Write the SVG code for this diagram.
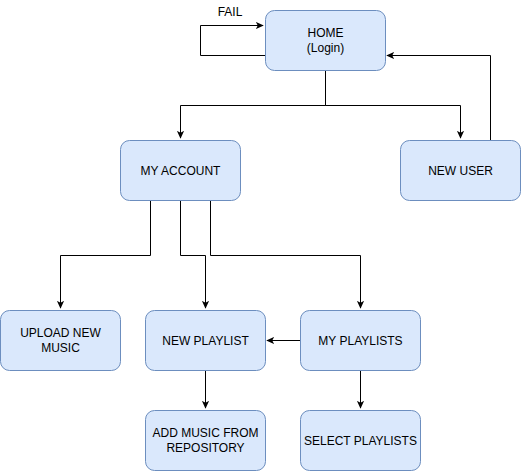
<svg xmlns="http://www.w3.org/2000/svg" width="521" height="471" viewBox="0 0 521 471">
<defs>
<marker id="arr" viewBox="0 0 10 10" refX="9" refY="5" markerWidth="8" markerHeight="8" markerUnits="userSpaceOnUse" orient="auto">
<path d="M0,0.5 L10,5 L0,9.5 L2.5,5 Z" fill="#000"/>
</marker>
<style>
.n rect{fill:#dae8fc;stroke:#6c8ebf;stroke-width:1}
.n text,.lbl{font-family:"Liberation Sans",Arial,Helvetica,sans-serif;font-size:12px;fill:#000;text-anchor:middle}
.e path{fill:none;stroke:#000;stroke-width:1;marker-end:url(#arr)}
</style>
</defs>
<rect width="521" height="471" fill="#fff"/>
<g class="e" id="connectors">
<path d="M265.5,55.5 H200.5 V25.5 H263"/>
<path d="M325.5,70.5 V105.5 H180.5 V138"/>
<path d="M325.5,70.5 V105.5 H460.5 V138"/>
<path d="M490.5,140.5 V55.5 H387"/>
<path d="M150.5,200.5 V255.5 H60.5 V308"/>
<path d="M180.5,200.5 V255.5 H205.5 V308"/>
<path d="M210.5,200.5 V255.5 H360.5 V308"/>
<path d="M300.5,340.5 H267"/>
<path d="M205.5,370.5 V408"/>
<path d="M360.5,370.5 V408"/>
</g>
<text class="lbl" x="230" y="16">FAIL</text>
<g class="n" id="home"><rect x="265.5" y="10.5" width="120" height="60" rx="9"/><text x="325.5" y="37">HOME</text><text x="325.5" y="52">(Login)</text></g>
<g class="n" id="myaccount"><rect x="120.5" y="140.5" width="120" height="60" rx="9"/><text x="180.5" y="175">MY ACCOUNT</text></g>
<g class="n" id="newuser"><rect x="400.5" y="140.5" width="120" height="60" rx="9"/><text x="460.5" y="175">NEW USER</text></g>
<g class="n" id="upload"><rect x="0.5" y="310.5" width="120" height="60" rx="9"/><text x="60.5" y="337">UPLOAD NEW</text><text x="60.5" y="352">MUSIC</text></g>
<g class="n" id="newplaylist"><rect x="145.5" y="310.5" width="120" height="60" rx="9"/><text x="205.5" y="345">NEW PLAYLIST</text></g>
<g class="n" id="myplaylists"><rect x="300.5" y="310.5" width="120" height="60" rx="9"/><text x="360.5" y="345">MY PLAYLISTS</text></g>
<g class="n" id="addmusic"><rect x="145.5" y="410.5" width="120" height="60" rx="9"/><text x="205.5" y="437">ADD MUSIC FROM</text><text x="205.5" y="452">REPOSITORY</text></g>
<g class="n" id="selectplaylists"><rect x="300.5" y="410.5" width="120" height="60" rx="9"/><text x="360.5" y="445">SELECT PLAYLISTS</text></g>
</svg>
